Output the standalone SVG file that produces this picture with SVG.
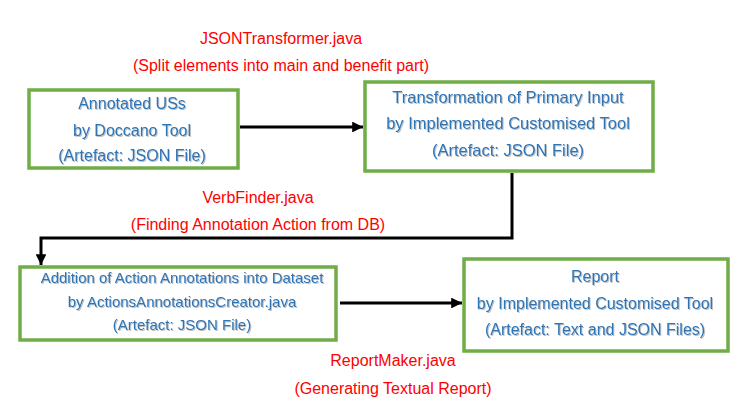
<svg xmlns="http://www.w3.org/2000/svg" width="754" height="412" viewBox="0 0 754 412">
<style>
.box{fill:#fff;stroke:#70AD47;stroke-width:3.5}
.t{font-family:"Liberation Sans",Arial,sans-serif;fill:#2E74B5;text-anchor:middle;dominant-baseline:central}
.r{font-family:"Liberation Sans",Arial,sans-serif;fill:#FF0000;text-anchor:middle;dominant-baseline:central;font-size:16px}
.c{fill:none;stroke:#000;stroke-width:3}
</style>
<defs>
<marker id="ah" viewBox="0 0 10 10" refX="10" refY="5" markerWidth="3.6" markerHeight="3.6" orient="auto" markerUnits="strokeWidth">
<path d="M0,0 L10,5 L0,10 z" fill="#000"/>
</marker>
<filter id="sh" x="-10%" y="-30%" width="120%" height="160%">
<feDropShadow dx="1" dy="1" stdDeviation="0.6" flood-color="#000" flood-opacity="0.25"/>
</filter>
</defs>
<rect width="754" height="412" fill="#fff"/>
<g id="connectors">
<path class="c" d="M240,127 L363,127" marker-end="url(#ah)"/>
<path class="c" d="M512,173 L512,238 L41,238 L41,265" marker-end="url(#ah)"/>
<path class="c" d="M340,303 L462,303" marker-end="url(#ah)"/>
</g>
<g id="label1">
<text class="r" x="281" y="38">JSONTransformer.java</text>
<text class="r" x="281" y="65">(Split elements into main and benefit part)</text>
</g>
<g id="label2">
<text class="r" x="258" y="197">VerbFinder.java</text>
<text class="r" x="258" y="224">(Finding Annotation Action from DB)</text>
</g>
<g id="label3">
<text class="r" x="393" y="360">ReportMaker.java</text>
<text class="r" x="393" y="388">(Generating Textual Report)</text>
</g>
<g id="node1">
<rect class="box" x="29" y="90" width="209" height="78"/>
<g filter="url(#sh)" font-size="16px">
<text class="t" x="132" y="103">Annotated USs</text>
<text class="t" x="132" y="130">by Doccano Tool</text>
<text class="t" x="132" y="155">(Artefact: JSON File)</text>
</g>
</g>
<g id="node2">
<rect class="box" x="365" y="82" width="288" height="89"/>
<g filter="url(#sh)" font-size="16.5px">
<text class="t" x="508" y="97">Transformation of Primary Input</text>
<text class="t" x="508" y="123">by Implemented Customised Tool</text>
<text class="t" x="508" y="150">(Artefact: JSON File)</text>
</g>
</g>
<g id="node3">
<rect class="box" x="20" y="267" width="316" height="73"/>
<g filter="url(#sh)" font-size="15px">
<text class="t" x="182" y="277">Addition of Action Annotations into Dataset</text>
<text class="t" x="182" y="301">by ActionsAnnotationsCreator.java</text>
<text class="t" x="182" y="324">(Artefact: JSON File)</text>
</g>
</g>
<g id="node4">
<rect class="box" x="464" y="259" width="264" height="92"/>
<g filter="url(#sh)" font-size="16px">
<text class="t" x="595" y="276">Report</text>
<text class="t" x="595" y="303">by Implemented Customised Tool</text>
<text class="t" x="595" y="329">(Artefact: Text and JSON Files)</text>
</g>
</g>
</svg>
